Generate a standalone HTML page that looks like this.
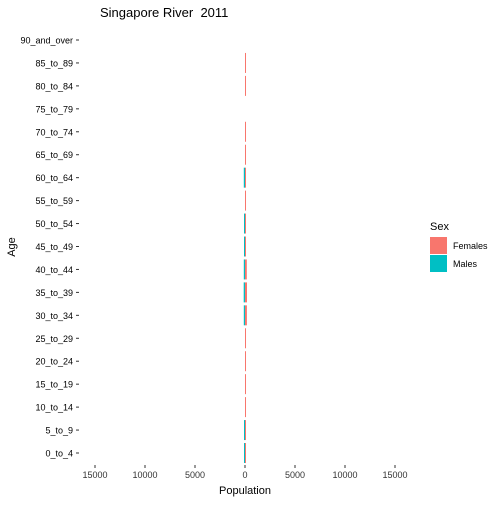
<!DOCTYPE html>
<html><head><meta charset="utf-8"><style>
body{margin:0;background:#fff;font-family:"Liberation Sans",sans-serif}
</style></head><body>
<svg id="c" width="500" height="500" xmlns="http://www.w3.org/2000/svg">
<text x="100" y="17" font-size="13" fill="#000" style="white-space:pre">Singapore River  2011</text>
<text x="245" y="494" font-size="11" text-anchor="middle" fill="#000">Population</text>
<text x="15" y="247" font-size="11" text-anchor="middle" transform="rotate(-90 15 247)" fill="#000">Age</text>
<g id="plot"></g>
<g>
<text x="430" y="230" font-size="11">Sex</text>
<rect x="430" y="237" width="17" height="17" fill="#F8766D"/>
<text x="453" y="249" font-size="9">Females</text>
<rect x="430" y="255" width="17" height="17" fill="#00BFC4"/>
<text x="453" y="267" font-size="9">Males</text>
</g>
</svg>
<script>
const ageGroups=["0_to_4","5_to_9","10_to_14","15_to_19","20_to_24","25_to_29","30_to_34","35_to_39","40_to_44","45_to_49","50_to_54","55_to_59","60_to_64","65_to_69","70_to_74","75_to_79","80_to_84","85_to_89","90_and_over"];
const males=[100,100,0,0,0,0,120,130,120,100,100,0,120,0,0,0,0,0,0];
const females=[30,30,30,30,30,30,190,200,180,70,60,30,40,30,30,0,30,30,0];
const xTicks=[-15000,-10000,-5000,0,5000,10000,15000];
const xTickLabels=["15000","10000","5000","0","5000","10000","15000"];
const NS="http://www.w3.org/2000/svg";
const g=document.getElementById("plot");
const x=v=>245+v*0.01;
const y=i=>453-i*(413/18);
const bh=20;
function mk(t,a){const e=document.createElementNS(NS,t);for(const k in a)e.setAttribute(k,a[k]);g.appendChild(e);return e;}
ageGroups.forEach((lab,i)=>{
 const tk=mk("line",{x1:76,x2:79,y1:y(i),y2:y(i),stroke:"#333"});
 
 
 const t=mk("text",{x:73,y:y(i)+3.5,"font-size":9,"text-anchor":"end",fill:"#000"});
 t.textContent=lab;
 
 
 if(females[i]>0){
  const w=Math.max(1,x(females[i])-x(0));
  const r=mk("rect",{x:x(0),y:y(i)-bh/2,width:w,height:bh,fill:"#F8766D"});
  
  
 }
 if(males[i]>0){
  const w=Math.max(1,x(0)-x(-males[i]));
  const r=mk("rect",{x:x(-males[i]),y:y(i)-bh/2,width:w,height:bh,fill:"#00BFC4"});
  
  
 }
});
xTicks.forEach((v,i)=>{
 const tk=mk("line",{x1:x(v),x2:x(v),y1:465,y2:468,stroke:"#333"});
 
 
 const t=mk("text",{x:x(v),y:478,"font-size":9,"text-anchor":"middle",fill:"#333"});
 t.textContent=xTickLabels[i];
 
 
});
</script>
</body></html>
